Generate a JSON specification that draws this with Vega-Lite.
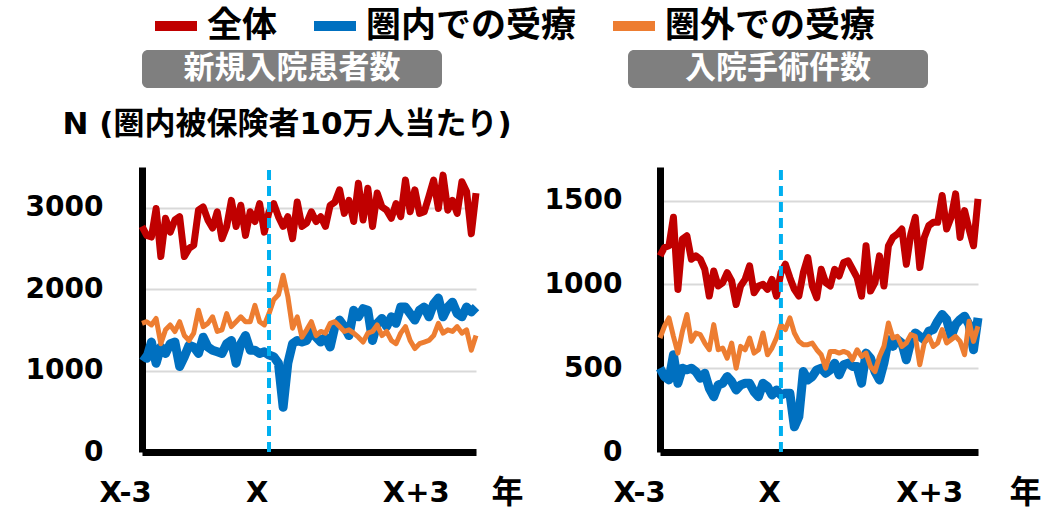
{
 "$schema": "https://vega.github.io/schema/vega-lite/v6.json",
 "padding": {"left": 25, "top": 0, "right": 0, "bottom": 0},
 "config": {
  "view": {"stroke": null},
  "axis": {"domainColor": "black", "domainWidth": 7, "ticks": false, "labelColor": "black", "labelFont": "DejaVu Sans", "labelFontWeight": "bold", "titleColor": "black", "titleFontWeight": "bold", "gridColor": "#D9D9D9", "gridWidth": 2},
  "legend": {"labelFont": "Noto Sans CJK JP", "labelFontSize": 35, "labelFontWeight": "bold", "labelColor": "black", "labelLimit": 400, "labelOffset": 5, "columnPadding": 16, "padding": 0, "symbolType": "stroke", "symbolSize": 1764, "symbolStrokeWidth": 10}
 },
 "datasets": {
  "a": [
   {"m":0,"全体":2770,"圏内での受療":1190,"圏外での受療":1580},
   {"m":1,"全体":2660,"圏内での受療":1150,"圏外での受療":1600},
   {"m":2,"全体":2640,"圏内での受療":1350,"圏外での受療":1560},
   {"m":3,"全体":2990,"圏内での受療":1090,"圏外での受療":1640},
   {"m":4,"全体":2400,"圏内での受療":1290,"圏外での受療":1330},
   {"m":5,"全体":2870,"圏内での受療":1210,"圏外での受療":1500},
   {"m":6,"全体":2700,"圏内での受療":1330,"圏外での受療":1560},
   {"m":7,"全体":2850,"圏内での受療":1350,"圏外での受療":1480},
   {"m":8,"全体":2890,"圏内での受療":1050,"圏外での受療":1600},
   {"m":9,"全体":2400,"圏内での受療":1170,"圏外での受療":1430},
   {"m":10,"全体":2500,"圏内での受療":1310,"圏外での受療":1370},
   {"m":11,"全体":2540,"圏内での受療":1290,"圏外での受療":1460},
   {"m":12,"全体":2970,"圏内での受療":1210,"圏外での受療":1740},
   {"m":13,"全体":3010,"圏内での受療":1410,"圏外での受療":1540},
   {"m":14,"全体":2850,"圏内での受療":1290,"圏外での受療":1580},
   {"m":15,"全体":2750,"圏内での受療":1250,"圏外での受療":1660},
   {"m":16,"全体":2950,"圏内での受療":1230,"圏外での受療":1480},
   {"m":17,"全体":2620,"圏内での受療":1210,"圏外での受療":1500},
   {"m":18,"全体":2770,"圏内での受療":1330,"圏外での受療":1700},
   {"m":19,"全体":3090,"圏内での受療":1370,"圏外での受療":1540},
   {"m":20,"全体":2770,"圏内での受療":1090,"圏外での受療":1600},
   {"m":21,"全体":3030,"圏内での受療":1330,"圏外での受療":1660},
   {"m":22,"全体":2660,"圏内での受療":1430,"圏外での受療":1600},
   {"m":23,"全体":2950,"圏内での受療":1250,"圏外での受療":1600},
   {"m":24,"全体":2830,"圏内での受療":1250,"圏外での受療":1800},
   {"m":25,"全体":3050,"圏内での受療":1210,"圏外での受療":1600},
   {"m":26,"全体":2700,"圏内での受療":1230,"圏外での受療":1560},
   {"m":27,"全体":2950,"圏内での受療":1190,"圏外での受療":1700},
   {"m":28,"全体":3050,"圏内での受療":1170,"圏外での受療":1870},
   {"m":29,"全体":2890,"圏内での受療":1090,"圏外での受療":1930},
   {"m":30,"全体":2770,"圏内での受療":550,"圏外での受療":2170},
   {"m":31,"全体":2890,"圏内での受療":1090,"圏外での受療":1910},
   {"m":32,"全体":2620,"圏内での受療":1330,"圏外での受療":1520},
   {"m":33,"全体":3070,"圏内での受療":1370,"圏外での受療":1660},
   {"m":34,"全体":2770,"圏内での受療":1350,"圏外での受療":1410},
   {"m":35,"全体":2810,"圏内での受療":1370,"圏外での受療":1500},
   {"m":36,"全体":2950,"圏内での受療":1480,"圏外での受療":1600},
   {"m":37,"全体":2830,"圏内での受療":1410,"圏外での受療":1430},
   {"m":38,"全体":2890,"圏内での受療":1350,"圏外での受療":1480},
   {"m":39,"全体":2770,"圏内での受療":1410,"圏外での受療":1460},
   {"m":40,"全体":3030,"圏内での受療":1290,"圏外での受療":1580},
   {"m":41,"全体":3070,"圏内での受療":1540,"圏外での受療":1600},
   {"m":42,"全体":3220,"圏内での受療":1620,"圏外での受療":1540},
   {"m":43,"全体":2930,"圏内での受療":1540,"圏外での受療":1480},
   {"m":44,"全体":3090,"圏内での受療":1430,"圏外での受療":1500},
   {"m":45,"全体":2830,"圏内での受療":1740,"圏外での受療":1460},
   {"m":46,"全体":3300,"圏内での受療":1660,"圏外での受療":1410},
   {"m":47,"全体":2850,"圏内での受療":1760,"圏外での受療":1350},
   {"m":48,"全体":3240,"圏内での受療":1740,"圏外での受療":1460},
   {"m":49,"全体":2770,"圏内での受療":1370,"圏外での受療":1480},
   {"m":50,"全体":3180,"圏内での受療":1580,"圏外での受療":1560},
   {"m":51,"全体":3010,"圏内での受療":1640,"圏外での受療":1430},
   {"m":52,"全体":2970,"圏内での受療":1540,"圏外での受療":1480},
   {"m":53,"全体":2870,"圏内での受療":1660,"圏外での受療":1370},
   {"m":54,"全体":3050,"圏内での受療":1580,"圏外での受療":1330},
   {"m":55,"全体":2890,"圏内での受療":1780,"圏外での受療":1460},
   {"m":56,"全体":3340,"圏内での受療":1780,"圏外での受療":1540},
   {"m":57,"全体":2950,"圏内での受療":1700,"圏外での受療":1370},
   {"m":58,"全体":3220,"圏内での受療":1620,"圏外での受療":1270},
   {"m":59,"全体":2930,"圏内での受療":1740,"圏外での受療":1330},
   {"m":60,"全体":2950,"圏内での受療":1780,"圏外での受療":1350},
   {"m":61,"全体":3140,"圏内での受療":1660,"圏外での受療":1370},
   {"m":62,"全体":3340,"圏内での受療":1820,"圏外での受療":1430},
   {"m":63,"全体":2990,"圏内での受療":1890,"圏外での受療":1580},
   {"m":64,"全体":3400,"圏内での受療":1660,"圏外での受療":1460},
   {"m":65,"全体":2970,"圏内での受療":1780,"圏外での受療":1500},
   {"m":66,"全体":3090,"圏内での受療":1840,"圏外での受療":1480},
   {"m":67,"全体":2930,"圏内での受療":1700,"圏外での受療":1540},
   {"m":68,"全体":3320,"圏内での受療":1660,"圏外での受療":1460},
   {"m":69,"全体":3200,"圏内での受療":1780,"圏外での受療":1500},
   {"m":70,"全体":2680,"圏内での受療":1720,"圏外での受療":1250},
   {"m":71,"全体":3180,"圏内での受療":1780,"圏外での受療":1430}
  ],
  "b": [
   {"m":0,"全体":1170,"圏内での受療":500,"圏外での受療":680},
   {"m":1,"全体":1220,"圏内での受療":450,"圏外での受療":750},
   {"m":2,"全体":1230,"圏内での受療":430,"圏外での受療":800},
   {"m":3,"全体":1400,"圏内での受療":580,"圏外での受療":690},
   {"m":4,"全体":970,"圏内での受療":410,"圏外での受療":590},
   {"m":5,"全体":1270,"圏内での受療":500,"圏外での受療":720},
   {"m":6,"全体":1290,"圏内での受療":490,"圏外での受療":820},
   {"m":7,"全体":1150,"圏内での受療":500,"圏外での受療":660},
   {"m":8,"全体":1170,"圏内での受療":480,"圏外での受療":710},
   {"m":9,"全体":1150,"圏内での受療":440,"圏外での受療":700},
   {"m":10,"全体":1090,"圏内での受療":470,"圏外での受療":650},
   {"m":11,"全体":930,"圏内での受療":380,"圏外での受療":610},
   {"m":12,"全体":1080,"圏内での受療":330,"圏外での受療":760},
   {"m":13,"全体":990,"圏内での受療":400,"圏外での受療":610},
   {"m":14,"全体":1010,"圏内での受療":410,"圏外での受療":620},
   {"m":15,"全体":1070,"圏内での受療":450,"圏外での受療":560},
   {"m":16,"全体":1020,"圏内での受療":420,"圏外での受療":650},
   {"m":17,"全体":880,"圏内での受療":370,"圏外での受療":500},
   {"m":18,"全体":990,"圏内での受療":400,"圏外での受療":630},
   {"m":19,"全体":1030,"圏内での受療":410,"圏外での受療":610},
   {"m":20,"全体":1110,"圏内での受療":410,"圏外での受療":680},
   {"m":21,"全体":950,"圏内での受療":360,"圏外での受療":590},
   {"m":22,"全体":990,"圏内での受療":330,"圏外での受療":610},
   {"m":23,"全体":1000,"圏内での受療":410,"圏外での受療":710},
   {"m":24,"全体":970,"圏内での受療":390,"圏外での受療":580},
   {"m":25,"全体":1030,"圏内での受療":340,"圏外での受療":620},
   {"m":26,"全体":930,"圏内での受療":370,"圏外での受療":680},
   {"m":27,"全体":1070,"圏内での受療":340,"圏外での受療":760},
   {"m":28,"全体":1120,"圏内での受療":350,"圏外での受療":730},
   {"m":29,"全体":1040,"圏内での受療":350,"圏外での受療":800},
   {"m":30,"全体":970,"圏内での受療":150,"圏外での受療":710},
   {"m":31,"全体":930,"圏内での受療":210,"圏外での受療":660},
   {"m":32,"全体":1070,"圏内での受療":480,"圏外での受療":640},
   {"m":33,"全体":1160,"圏内での受療":430,"圏外での受療":640},
   {"m":34,"全体":990,"圏内での受療":450,"圏外での受療":650},
   {"m":35,"全体":920,"圏内での受療":490,"圏外での受療":610},
   {"m":36,"全体":1090,"圏内での受療":500,"圏外での受療":580},
   {"m":37,"全体":1010,"圏内での受療":470,"圏外での受療":500},
   {"m":38,"全体":990,"圏内での受療":490,"圏外での受療":600},
   {"m":39,"全体":1090,"圏内での受療":530,"圏外での受療":600},
   {"m":40,"全体":1050,"圏内での受療":460,"圏外での受療":590},
   {"m":41,"全体":1130,"圏内での受療":520,"圏外での受療":600},
   {"m":42,"全体":1140,"圏内での受療":530,"圏外での受療":590},
   {"m":43,"全体":1090,"圏内での受療":510,"圏外での受療":550},
   {"m":44,"全体":1040,"圏内での受療":510,"圏外での受療":610},
   {"m":45,"全体":930,"圏内での受療":410,"圏外での受療":570},
   {"m":46,"全体":1230,"圏内での受療":590,"圏外での受療":590},
   {"m":47,"全体":960,"圏内での受療":560,"圏外での受療":510},
   {"m":48,"全体":1010,"圏内での受療":480,"圏外での受療":480},
   {"m":49,"全体":1170,"圏内での受療":430,"圏外での受療":570},
   {"m":50,"全体":990,"圏内での受療":530,"圏外での受療":630},
   {"m":51,"全体":1230,"圏内での受療":670,"圏外での受療":770},
   {"m":52,"全体":1280,"圏内での受療":630,"圏外での受療":680},
   {"m":53,"全体":1300,"圏内での受療":670,"圏外での受療":690},
   {"m":54,"全体":1330,"圏内での受療":650,"圏外での受療":630},
   {"m":55,"全体":1120,"圏内での受療":550,"圏外での受療":650},
   {"m":56,"全体":1300,"圏内での受療":660,"圏外での受療":700},
   {"m":57,"全体":1400,"圏内での受療":710,"圏外での受療":690},
   {"m":58,"全体":1100,"圏内での受療":690,"圏外での受療":520},
   {"m":59,"全体":1280,"圏内での受療":670,"圏外での受療":650},
   {"m":60,"全体":1350,"圏内での受療":720,"圏外での受療":690},
   {"m":61,"全体":1370,"圏内での受療":730,"圏外での受療":630},
   {"m":62,"全体":1370,"圏内での受療":780,"圏外での受療":650},
   {"m":63,"全体":1530,"圏内での受療":820,"圏外での受療":730},
   {"m":64,"全体":1330,"圏内での受療":790,"圏外での受療":650},
   {"m":65,"全体":1400,"圏内での受療":690,"圏外での受療":670},
   {"m":66,"全体":1540,"圏内での受療":760,"圏外での受療":690},
   {"m":67,"全体":1280,"圏内での受療":790,"圏外での受療":660},
   {"m":68,"全体":1440,"圏内での受療":810,"圏外での受療":580},
   {"m":69,"全体":1330,"圏内での受療":760,"圏外での受療":780},
   {"m":70,"全体":1230,"圏内での受療":610,"圏外での受療":660},
   {"m":71,"全体":1510,"圏内での受療":800,"圏外での受療":750}
  ]
 },
 "vconcat": [
  {
   "hconcat": [
    {"width": 300, "height": 38, "data": {"values": [{"t": "新規入院患者数"}]},
     "layer": [
      {"mark": {"type": "rect", "fill": "#7F7F7F", "cornerRadius": 6}, "encoding": {}},
      {"mark": {"type": "text", "color": "white", "font": "Noto Sans CJK JP", "fontSize": 31, "fontWeight": "bold", "baseline": "middle", "align": "center"}, "encoding": {"text": {"field": "t"}}}
     ]},
    {"width": 300, "height": 38, "data": {"values": [{"t": "入院手術件数"}]},
     "layer": [
      {"mark": {"type": "rect", "fill": "#7F7F7F", "cornerRadius": 6}, "encoding": {}},
      {"mark": {"type": "text", "color": "white", "font": "Noto Sans CJK JP", "fontSize": 31, "fontWeight": "bold", "baseline": "middle", "align": "center"}, "encoding": {"text": {"field": "t"}}}
     ]}
   ],
   "spacing": 186, "bounds": "flush"
  },
  {
   "hconcat": [
    {
     "width": 334, "height": 285,
     "data": {"name": "a"},
     "transform": [{"fold": ["全体", "圏内での受療", "圏外での受療"], "as": ["series", "v"]}],
     "encoding": {
      "x": {"field": "m", "type": "quantitative", "scale": {"domain": [0, 71], "nice": false, "zero": false},
            "axis": {"values": [0, 24.4, 58.2], "labelExpr": "datum.value < 1 ? 'X-3' : datum.value < 40 ? 'X' : 'X+3'", "labelOffset": {"condition": {"test": "datum.value < 1", "value": -17}, "value": 0}, "labelFlush": false, "labelOverlap": false, "labelFontSize": 29, "labelBaseline": "middle", "labelPadding": 40, "grid": false,
                     "title": "年", "titleFont": "Noto Sans CJK JP", "titleFontSize": 32, "titleAngle": 0, "titleX": 365, "titleY": 40, "titleAlign": "center", "titleBaseline": "middle"}},
      "y": {"field": "v", "type": "quantitative", "scale": {"domain": [0, 3500], "nice": false},
            "axis": {"values": [0, 1000, 2000, 3000], "format": "d", "labelFontSize": 28, "labelPadding": 39, "grid": true,
                     "title": "N (圏内被保険者10万人当たり)", "titleFont": "DejaVu Sans, Noto Sans CJK JP", "titleFontSize": 31, "titleAngle": 0, "titleX": -80, "titleY": -34, "titleAlign": "left", "titleBaseline": "alphabetic"}},
      "color": {"field": "series", "type": "nominal", "scale": {"domain": ["全体", "圏内での受療", "圏外での受療"], "range": ["#C00000", "#0070C0", "#ED7D31"]},
                "legend": {"orient": "none", "legendX": 8, "legendY": -50, "direction": "horizontal", "title": null}}
     },
     "layer": [
      {"transform": [{"filter": {"field": "series", "equal": "全体"}}], "mark": {"type": "line", "strokeWidth": 7, "strokeJoin": "round"}},
      {"transform": [{"filter": {"field": "series", "equal": "圏内での受療"}}], "mark": {"type": "line", "strokeWidth": 9, "strokeJoin": "round"}},
      {"transform": [{"filter": {"field": "series", "equal": "圏外での受療"}}], "mark": {"type": "line", "strokeWidth": 5, "strokeJoin": "round"}},
      {"transform": [{"filter": "datum.m == 0 && datum.series == '全体'"}],
       "mark": {"type": "rule", "strokeWidth": 4, "strokeDash": [10, 6]},
       "encoding": {"x": {"datum": 27}, "y": {"datum": 0}, "y2": {"datum": 3500}, "color": {"value": "#00B0F0"}}}
     ]
    },
    {
     "width": 318, "height": 285,
     "data": {"name": "b"},
     "transform": [{"fold": ["全体", "圏内での受療", "圏外での受療"], "as": ["series", "v"]}],
     "encoding": {
      "x": {"field": "m", "type": "quantitative", "scale": {"domain": [0, 71], "nice": false, "zero": false},
            "axis": {"values": [0, 24.4, 60.1], "labelExpr": "datum.value < 1 ? 'X-3' : datum.value < 40 ? 'X' : 'X+3'", "labelOffset": {"condition": {"test": "datum.value < 1", "value": -21}, "value": 0}, "labelFlush": false, "labelOverlap": false, "labelFontSize": 29, "labelBaseline": "middle", "labelPadding": 40, "grid": false,
                     "title": "年", "titleFont": "Noto Sans CJK JP", "titleFontSize": 32, "titleAngle": 0, "titleX": 365, "titleY": 40, "titleAlign": "center", "titleBaseline": "middle"}},
      "y": {"field": "v", "type": "quantitative", "scale": {"domain": [0, 1700], "nice": false},
            "axis": {"values": [0, 500, 1000, 1500], "format": "d", "labelFontSize": 28, "labelPadding": 38, "grid": true, "title": null}},
      "color": {"field": "series", "type": "nominal", "scale": {"domain": ["全体", "圏内での受療", "圏外での受療"], "range": ["#C00000", "#0070C0", "#ED7D31"]},
                "legend": {"orient": "none", "legendX": 8, "legendY": -50, "direction": "horizontal", "title": null}}
     },
     "layer": [
      {"transform": [{"filter": {"field": "series", "equal": "全体"}}], "mark": {"type": "line", "strokeWidth": 7, "strokeJoin": "round"}},
      {"transform": [{"filter": {"field": "series", "equal": "圏内での受療"}}], "mark": {"type": "line", "strokeWidth": 9, "strokeJoin": "round"}},
      {"transform": [{"filter": {"field": "series", "equal": "圏外での受療"}}], "mark": {"type": "line", "strokeWidth": 5, "strokeJoin": "round"}},
      {"transform": [{"filter": "datum.m == 0 && datum.series == '全体'"}],
       "mark": {"type": "rule", "strokeWidth": 4, "strokeDash": [10, 6]},
       "encoding": {"x": {"datum": 27}, "y": {"datum": 0}, "y2": {"datum": 1700}, "color": {"value": "#00B0F0"}}}
     ]
    }
   ],
   "spacing": 184, "bounds": "flush"
  }
 ],
 "spacing": 117,
 "bounds": "flush"
}
